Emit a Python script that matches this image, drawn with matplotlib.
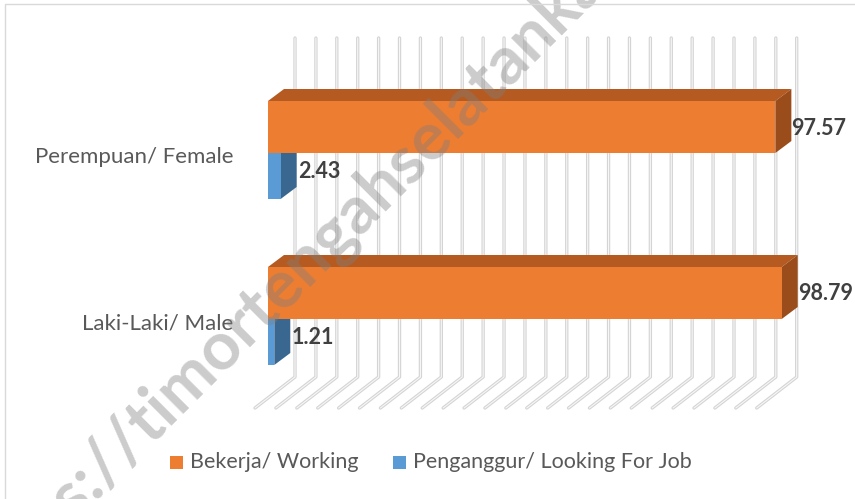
import numpy as np
import matplotlib.pyplot as plt
from matplotlib.patches import Polygon
from matplotlib.lines import Line2D

# Data
categories = ['Perempuan/ Female', 'Laki-Laki/ Male']
working = [97.57, 98.79]
looking = [2.43, 1.21]
series_names = ['Bekerja/ Working', 'Penganggur/ Looking For Job']
grid_values = np.arange(0, 97, 4)

# Colours
orange = ['#ED7D31', '#B55B22', '#9A4C1B']   # front, top, side
blue = ['#5B9BD5', '#45779F', '#3A6790']
text_dark = '#404040'
text_grey = '#595959'

plt.rcParams['font.family'] = ['Lato', 'DejaVu Sans']

fig = plt.figure(figsize=(8.55, 4.99), dpi=100)
ax = fig.add_axes([0, 0, 1, 1])
px = 5.2          # pixels per unit on the front plane
x0 = 268          # pixel position of zero
ax.set_xlim(-x0 / px, (855 - x0) / px)
ax.set_ylim(499, 0)
ax.axis('off')

# chart frame (only the left and top edges fall inside the picture)
fig.lines.append(Line2D([5 / 855, 5 / 855, 1], [0, 1 - 4 / 499, 1 - 4 / 499],
                        transform=fig.transFigure, color='#d9d9d9', lw=1))

# depth offsets of the fake 3D
dx, dy = 16 / px, -12

# back wall + floor gridlines
back_off = 27 / px
for v in grid_values:
    xb = back_off + v * 1.005
    xs = [xb, xb, xb - 40 / px]
    ys = [38, 377, 408]
    ax.plot(xs, ys, color='#d4d4d4', lw=2.4, zorder=1, solid_capstyle='round')
    ax.plot(xs, ys, color='#f7f7f7', lw=0.8, zorder=1.1, solid_capstyle='round')


def box(val, ytop, ybot, cols, z):
    front, top, side = cols
    ax.add_patch(Polygon([(0, ytop), (dx, ytop + dy), (val + dx, ytop + dy), (val, ytop)],
                         closed=True, fc=top, ec='none', zorder=z))
    ax.add_patch(Polygon([(val, ytop), (val + dx, ytop + dy), (val + dx, ybot + dy), (val, ybot)],
                         closed=True, fc=side, ec='none', zorder=z))
    ax.add_patch(Polygon([(0, ytop), (val, ytop), (val, ybot), (0, ybot)],
                         closed=True, fc=front, ec='none', zorder=z + 0.1))


group_top = 101
group_gap = 166
bar_h = 52
blue_h = 46
for i, cat in enumerate(categories):
    yt = group_top + i * group_gap
    yb = yt + bar_h
    box(looking[i], yb, yb + blue_h, blue, 3)
    box(working[i], yt, yb, orange, 4)
    ax.text(working[i] + dx, (yt + yb) / 2 + 1, f'{working[i]:.2f}',
            ha='left', va='center', fontsize=15.5, fontweight='bold', color=text_dark, zorder=6)
    ax.text(looking[i] + dx + 0.2, yb + blue_h / 2 - 4, f'{looking[i]:.2f}',
            ha='left', va='center', fontsize=15.5, fontweight='bold', color=text_dark, zorder=6)
    ax.text(-35 / px, yb + 4, cat, ha='right', va='center', fontsize=16, color=text_grey)

# legend
leg_x = [(170 - x0) / px, (393 - x0) / px]
for lx, name, col in zip(leg_x, series_names, [orange[0], blue[0]]):
    ax.add_patch(Polygon([(lx, 456), (lx + 13 / px, 456), (lx + 13 / px, 469), (lx, 469)],
                         closed=True, fc=col, ec='none'))
    ax.text(lx + 20 / px, 462, name, ha='left', va='center', fontsize=15.5, color=text_grey)

# watermark
ax.text((-28 - x0) / px, 595, 'https://timortengahselatankab.bps.go.id', rotation=45,
        rotation_mode='anchor', ha='left', va='center', fontsize=48, fontweight='bold',
        color='#7f7f7f', alpha=0.4, zorder=8)

fig.savefig('out.png', dpi=100)
